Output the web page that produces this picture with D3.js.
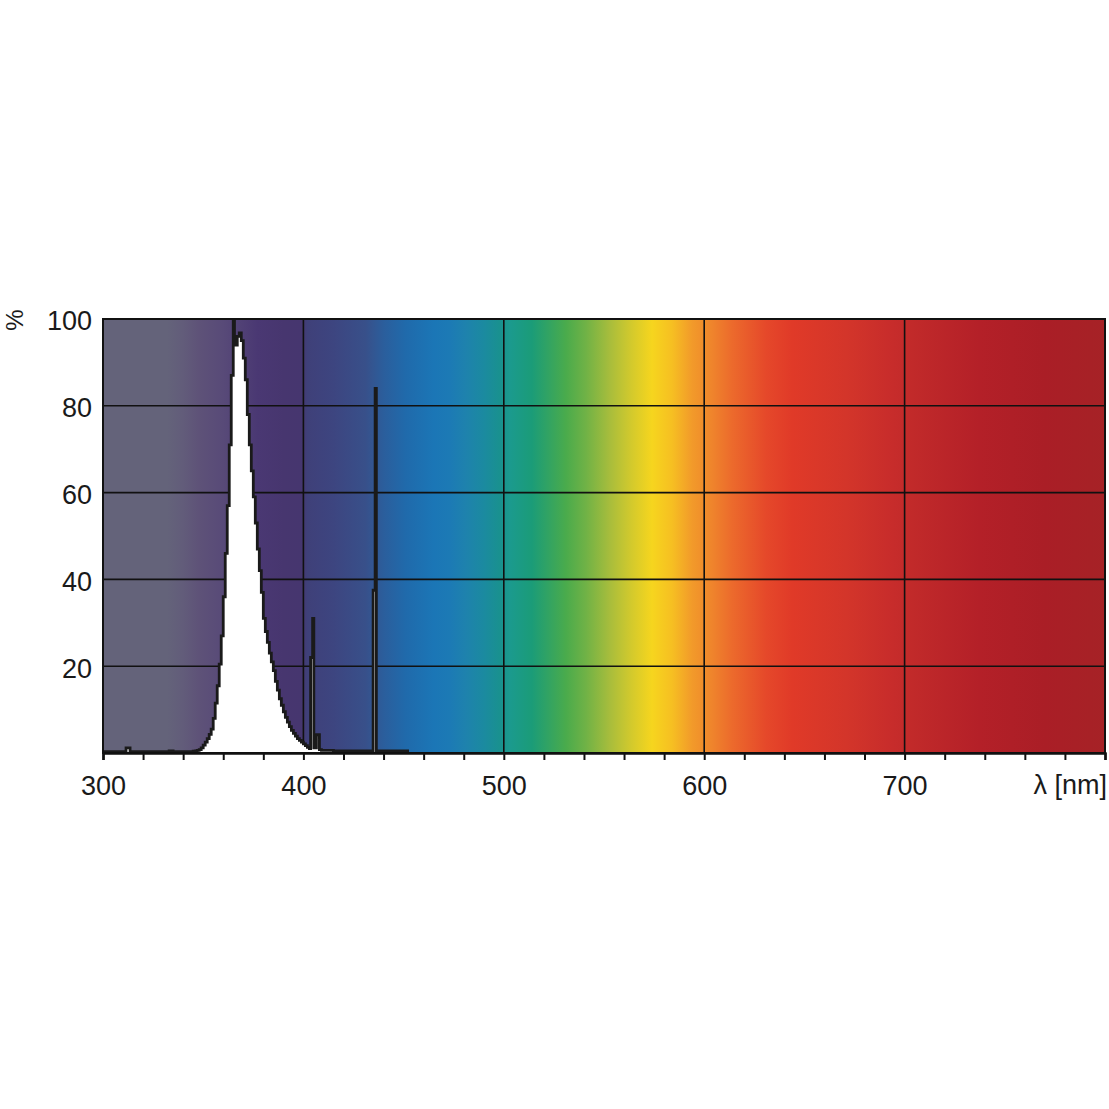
<!DOCTYPE html>
<html><head><meta charset="utf-8">
<script src="https://cdn.jsdelivr.net/npm/d3@7"></script>
<style>
html,body{margin:0;padding:0;background:#fff;}
svg{display:block;}
text{font-family:"Liberation Sans",Arial,Helvetica,sans-serif;fill:#1a1a1a;}
</style></head>
<body>
<svg id="c" width="1109" height="1109"></svg>
<script>
// ---- data ----
const wavelengths = [300,311.5,313.5,333,335,345,346,347,348,349,350,351,352,353,354,355,356,357,358,359,
  360,361,362,363,364,365,365.6,366,367,368,369,370,371,372,373,374,375,376,377,378,379,
  380,381,382,383,384,385,386,387,388,389,390,391,392,393,394,395,396,397,398,399,
  400,401,402,403,403.6,404.6,405.2,406.5,408,409,415,434.8,435.8,436.4,452];
const intensity = [0.3,1.2,0.3,0.5,0.3,0.4,0.5,0.6,0.8,1.2,1.8,2.5,3.3,4.3,5.5,8,11.5,15.5,20.5,27,
  36,46,57,71,87,100,94,94,96,96.8,95,91,86,78,71,65,59,53,47,42,37,
  31,28,25.5,23,21,19,16.5,14.5,12.5,11,9.5,8.2,7.1,6.1,5.2,4.5,3.9,3.3,2.9,2.5,
  2.1,1.7,1.3,1.0,22,31,1.2,4.2,0.8,0.6,0.5,37.5,84,0.5,0];
const xTicks = d3.range(300, 801, 20);
const xLabels = [300,400,500,600,700];
const yTicks = [20,40,60,80,100];
const xGrid = [400,500,600,700];
const yGrid = [20,40,60,80];
// background spectrum colours by wavelength
const bgNm = [300,332,340,348,360,377,390,399,402,415,431,440,451,465,473,481,490,498,503,514,531,541,553,564,574,584,594,604,614,631,644,671,694,704,737,770,800];
const bgColor = ["#64637a","#64637a","#625c7a","#5e5278","#584a78","#4a3873","#47366f","#46366f","#3f4079","#3d4580","#38508a","#2b5e9c","#206aab","#1b76b6","#1c7ab5","#1e82ad","#1b8aa0","#19918f","#1b9a8e","#1b9c78","#4aab4c","#70b246","#a8bd3c","#d4ca2c","#f6d51e","#f6bf22","#f29a2a","#ef842c","#ec6a2c","#e5482a","#e03a28","#d3352a","#c72c2b","#c12a2a","#b42028","#aa1e26","#a62226"];

// ---- chart ----
const svg = d3.select("#c");
const L = 103, R = 1105, T = 319, B = 753;
const x = d3.scaleLinear().domain([300, 800]).range([L, R]);
const y = d3.scaleLinear().domain([0, 100]).range([B, T]);

const defs = svg.append("defs");
const grad = defs.append("linearGradient").attr("id","spec")
  .attr("gradientUnits","userSpaceOnUse")
  .attr("x1", x(300)).attr("x2", x(800)).attr("y1",0).attr("y2",0);
grad.selectAll("stop").data(bgNm).join("stop")
  .attr("offset", d => (d - 300) / 500)
  .attr("stop-color", (d,i) => bgColor[i]);
defs.append("clipPath").attr("id","clip").append("rect")
  .attr("x", L).attr("y", T).attr("width", R - L).attr("height", B - T);

svg.append("rect").attr("x", L).attr("y", T).attr("width", R - L).attr("height", B - T)
  .attr("fill","url(#spec)");

const grid = svg.append("g").attr("stroke","#111").attr("stroke-width",1.6);
grid.selectAll("line.v").data(xGrid).join("line").attr("class","v")
  .attr("x1", d => x(d)).attr("x2", d => x(d)).attr("y1", T).attr("y2", B);
grid.selectAll("line.h").data(yGrid).join("line").attr("class","h")
  .attr("x1", L).attr("x2", R).attr("y1", d => y(d)).attr("y2", d => y(d));

const pts = wavelengths.map((w,i) => [w, intensity[i]]);
const g = svg.append("g").attr("clip-path","url(#clip)");
g.append("path").datum(pts)
  .attr("fill","#fff")
  .attr("d", d3.area().curve(d3.curveStepAfter).x(d => x(d[0])).y0(y(0)).y1(d => y(d[1])));
g.append("path").datum(pts)
  .attr("fill","none").attr("stroke","#1a1a1a").attr("stroke-width",2.8)
  .attr("stroke-linejoin","miter")
  .attr("d", d3.line().curve(d3.curveStepAfter).x(d => x(d[0])).y(d => y(d[1])));

// frame
svg.append("rect").attr("x", L).attr("y", T).attr("width", R - L).attr("height", B - T)
  .attr("fill","none").attr("stroke","#111").attr("stroke-width",2);

// x axis
const xAxis = d3.axisBottom(x).tickValues(xTicks).tickSize(7).tickPadding(16)
  .tickFormat(d => xLabels.includes(d) ? String(d) : "");
const xg = svg.append("g").attr("transform", `translate(0,${B})`).call(xAxis);
xg.select(".domain").attr("stroke","#111").attr("stroke-width",2.5);
xg.selectAll(".tick line").attr("stroke","#111").attr("stroke-width",2);
xg.selectAll(".tick text").attr("font-size",27).attr("fill","#1a1a1a")
  .attr("font-family",'"Liberation Sans",Arial,sans-serif');

// y axis
const yAxis = d3.axisLeft(y).tickValues(yTicks).tickSize(0).tickPadding(11);
const yg = svg.append("g").attr("transform", `translate(${L},0)`).call(yAxis);
yg.select(".domain").remove();
yg.selectAll(".tick text").attr("font-size",27).attr("fill","#1a1a1a").attr("dy","0.4em")
  .attr("font-family",'"Liberation Sans",Arial,sans-serif');

svg.append("text").attr("transform","translate(23,320) rotate(-90)")
  .attr("text-anchor","middle").attr("font-size",24).text("%");
svg.append("text").attr("x",1107).attr("y",794).attr("text-anchor","end")
  .attr("font-size",27).text("λ [nm]");
</script>
</body></html>
